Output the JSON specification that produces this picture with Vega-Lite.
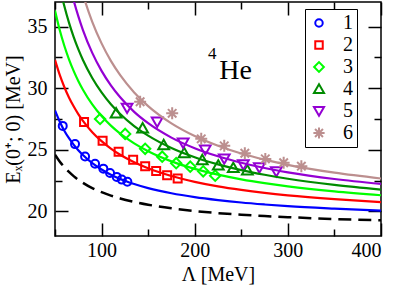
{
  "$schema": "https://vega.github.io/schema/vega-lite/v6.json",
  "width": 326,
  "height": 234,
  "autosize": {"type": "none"},
  "padding": {"left": 55, "top": 2, "right": 14, "bottom": 50},
  "background": "white",
  "config": {
    "view": {"stroke": "black", "strokeWidth": 1.5},
    "font": "Liberation Serif",
    "axis": {
      "grid": false, "domain": false, "tickColor": "black", "tickWidth": 1.5,
      "labelColor": "black", "labelFont": "Liberation Serif", "labelFontSize": 20,
      "titleFont": "Liberation Serif", "titleFontSize": 20, "titleFontWeight": "normal", "titleColor": "black"
    },
    "legend": {
      "padding": 4, "strokeColor": "black", "labelFont": "Liberation Serif", "labelFontSize": 20,
      "labelColor": "black", "symbolStrokeWidth": 2, "symbolSize": 56, "rowPadding": 2,
      "labelOffset": 14, "cornerRadius": 0
    }
  },
  "datasets": {
    "curves": [
      {"s":"0","L":50,"E":24.60},{"s":"0","L":55,"E":24.05},{"s":"0","L":60,"E":23.59},{"s":"0","L":65,"E":23.20},{"s":"0","L":70,"E":22.86},{"s":"0","L":75,"E":22.57},{"s":"0","L":80,"E":22.32},{"s":"0","L":90,"E":21.89},{"s":"0","L":100,"E":21.56},{"s":"0","L":110,"E":21.28},{"s":"0","L":120,"E":21.05},{"s":"0","L":135,"E":20.77},{"s":"0","L":150,"E":20.54},{"s":"0","L":175,"E":20.25},{"s":"0","L":200,"E":20.03},{"s":"0","L":225,"E":19.86},{"s":"0","L":250,"E":19.73},{"s":"0","L":275,"E":19.62},{"s":"0","L":300,"E":19.53},{"s":"0","L":350,"E":19.38},{"s":"0","L":400,"E":19.27},
      {"s":"1","L":50,"E":28.20},{"s":"1","L":55,"E":27.30},{"s":"1","L":60,"E":26.55},{"s":"1","L":65,"E":25.94},{"s":"1","L":70,"E":25.42},{"s":"1","L":75,"E":24.96},{"s":"1","L":80,"E":24.57},{"s":"1","L":90,"E":23.91},{"s":"1","L":100,"E":23.40},{"s":"1","L":110,"E":22.98},{"s":"1","L":120,"E":22.63},{"s":"1","L":135,"E":22.22},{"s":"1","L":150,"E":21.89},{"s":"1","L":175,"E":21.47},{"s":"1","L":200,"E":21.16},{"s":"1","L":225,"E":20.92},{"s":"1","L":250,"E":20.72},{"s":"1","L":275,"E":20.56},{"s":"1","L":300,"E":20.42},{"s":"1","L":350,"E":20.22},{"s":"1","L":400,"E":20.06},
      {"s":"2","L":50,"E":32.30},{"s":"2","L":55,"E":31.10},{"s":"2","L":60,"E":30.10},{"s":"2","L":65,"E":29.25},{"s":"2","L":70,"E":28.53},{"s":"2","L":75,"E":27.90},{"s":"2","L":80,"E":27.35},{"s":"2","L":90,"E":26.43},{"s":"2","L":100,"E":25.70},{"s":"2","L":110,"E":25.10},{"s":"2","L":120,"E":24.60},{"s":"2","L":135,"E":23.99},{"s":"2","L":150,"E":23.50},{"s":"2","L":175,"E":22.87},{"s":"2","L":200,"E":22.40},{"s":"2","L":225,"E":22.03},{"s":"2","L":250,"E":21.74},{"s":"2","L":275,"E":21.50},{"s":"2","L":300,"E":21.30},{"s":"2","L":350,"E":20.99},{"s":"2","L":400,"E":20.75},
      {"s":"3","L":50,"E":36.30},{"s":"3","L":55,"E":34.74},{"s":"3","L":60,"E":33.45},{"s":"3","L":65,"E":32.35},{"s":"3","L":70,"E":31.41},{"s":"3","L":75,"E":30.59},{"s":"3","L":80,"E":29.88},{"s":"3","L":90,"E":28.69},{"s":"3","L":100,"E":27.74},{"s":"3","L":110,"E":26.96},{"s":"3","L":120,"E":26.31},{"s":"3","L":135,"E":25.52},{"s":"3","L":150,"E":24.88},{"s":"3","L":175,"E":24.06},{"s":"3","L":200,"E":23.45},{"s":"3","L":225,"E":22.98},{"s":"3","L":250,"E":22.60},{"s":"3","L":275,"E":22.29},{"s":"3","L":300,"E":22.03},{"s":"3","L":350,"E":21.62},{"s":"3","L":400,"E":21.31},
      {"s":"4","L":50,"E":40.18},{"s":"4","L":55,"E":38.27},{"s":"4","L":60,"E":36.67},{"s":"4","L":65,"E":35.32},{"s":"4","L":70,"E":34.17},{"s":"4","L":75,"E":33.17},{"s":"4","L":80,"E":32.29},{"s":"4","L":90,"E":30.83},{"s":"4","L":100,"E":29.66},{"s":"4","L":110,"E":28.70},{"s":"4","L":120,"E":27.91},{"s":"4","L":135,"E":26.93},{"s":"4","L":150,"E":26.15},{"s":"4","L":175,"E":25.15},{"s":"4","L":200,"E":24.40},{"s":"4","L":225,"E":23.82},{"s":"4","L":250,"E":23.35},{"s":"4","L":275,"E":22.97},{"s":"4","L":300,"E":22.65},{"s":"4","L":350,"E":22.15},{"s":"4","L":400,"E":21.77},
      {"s":"5","L":60,"E":40.44},{"s":"5","L":65,"E":38.66},{"s":"5","L":70,"E":37.14},{"s":"5","L":75,"E":35.85},{"s":"5","L":80,"E":34.72},{"s":"5","L":90,"E":32.87},{"s":"5","L":100,"E":31.41},{"s":"5","L":110,"E":30.23},{"s":"5","L":120,"E":29.26},{"s":"5","L":135,"E":28.08},{"s":"5","L":150,"E":27.16},{"s":"5","L":175,"E":25.99},{"s":"5","L":200,"E":25.13},{"s":"5","L":225,"E":24.47},{"s":"5","L":250,"E":23.95},{"s":"5","L":275,"E":23.52},{"s":"5","L":300,"E":23.17},{"s":"5","L":350,"E":22.63},{"s":"5","L":400,"E":22.23},
      {"s":"6","L":75,"E":38.97},{"s":"6","L":80,"E":37.62},{"s":"6","L":90,"E":35.39},{"s":"6","L":100,"E":33.64},{"s":"6","L":110,"E":32.22},{"s":"6","L":120,"E":31.06},{"s":"6","L":135,"E":29.66},{"s":"6","L":150,"E":28.55},{"s":"6","L":175,"E":27.15},{"s":"6","L":200,"E":26.12},{"s":"6","L":225,"E":25.33},{"s":"6","L":250,"E":24.70},{"s":"6","L":275,"E":24.20},{"s":"6","L":300,"E":23.78},{"s":"6","L":350,"E":23.14},{"s":"6","L":400,"E":22.67}
    ],
    "points": [
      {"s":"1","L":58.3,"E":26.94},{"s":"1","L":71.5,"E":25.46},{"s":"1","L":82.3,"E":24.46},{"s":"1","L":93.0,"E":23.87},{"s":"1","L":101.9,"E":23.47},{"s":"1","L":109.1,"E":23.12},{"s":"1","L":116.3,"E":22.80},{"s":"1","L":121.7,"E":22.58},{"s":"1","L":127.7,"E":22.40},
      {"s":"2","L":81.2,"E":27.26},{"s":"2","L":101.1,"E":25.73},{"s":"2","L":118.3,"E":24.84},{"s":"2","L":133.9,"E":24.19},{"s":"2","L":146.8,"E":23.67},{"s":"2","L":158.6,"E":23.27},{"s":"2","L":170.4,"E":22.94},{"s":"2","L":181.7,"E":22.66},
      {"s":"3","L":98.4,"E":27.50},{"s":"3","L":125.3,"E":26.29},{"s":"3","L":146.8,"E":25.08},{"s":"3","L":165.1,"E":24.44},{"s":"3","L":180.1,"E":23.91},{"s":"3","L":195.2,"E":23.63},{"s":"3","L":209.1,"E":23.25},{"s":"3","L":222.0,"E":22.90},
      {"s":"4","L":115.6,"E":27.98},{"s":"4","L":144.1,"E":26.77},{"s":"4","L":166.7,"E":25.40},{"s":"4","L":188.7,"E":24.76},{"s":"4","L":208.1,"E":24.19},{"s":"4","L":225.3,"E":23.75},{"s":"4","L":241.4,"E":23.55},{"s":"4","L":256.5,"E":23.35},
      {"s":"5","L":127.4,"E":28.39},{"s":"5","L":159.7,"E":27.26},{"s":"5","L":187.6,"E":25.56},{"s":"5","L":211.3,"E":25.00},{"s":"5","L":231.7,"E":24.27},{"s":"5","L":252.2,"E":23.79},{"s":"5","L":269.4,"E":23.55},{"s":"5","L":287.6,"E":23.23},
      {"s":"6","L":141.4,"E":28.90},{"s":"6","L":175.8,"E":27.96},{"s":"6","L":207.0,"E":25.89},{"s":"6","L":231.7,"E":25.32},{"s":"6","L":253.8,"E":24.72},{"s":"6","L":275.8,"E":24.26},{"s":"6","L":295.5,"E":23.95},{"s":"6","L":314.5,"E":23.67}
    ],
    "labels": [
      {"t":"He","L":243.9,"E":30.78,"k":"big"},
      {"t":"4","L":218.8,"E":32.40,"k":"small"}
    ]
  },
  "layer": [
    {
      "data": {"name": "points"},
      "mark": {"type": "point", "filled": false, "strokeWidth": 2, "opacity": 1, "size": 64, "clip": true},
      "encoding": {
        "x": {"field": "L", "type": "quantitative", "scale": {"domain": [50, 400], "nice": false, "zero": false},
              "axis": {"orient": "bottom", "values": [100, 200, 300, 400], "tickSize": -13, "labelPadding": 17, "title": "Λ [MeV]", "titlePadding": 4}},
        "y": {"field": "E", "type": "quantitative", "scale": {"domain": [18, 37], "nice": false, "zero": false},
              "axis": {"orient": "left", "values": [20, 25, 30, 35], "tickSize": -13, "labelPadding": 21, "title": "Eₓ(0⁺; 0) [MeV]", "titlePadding": 4}},
        "color": {"field": "s", "type": "nominal",
                  "scale": {"domain": ["1","2","3","4","5","6"], "range": ["#0000ff","#ff0000","#00ff00","#008b00","#9400d3","#bc8f8f"]},
                  "legend": {"title": null, "orient": "none", "legendX": 250, "legendY": 7}},
        "shape": {"field": "s", "type": "nominal",
                  "scale": {"domain": ["1","2","3","4","5","6"], "range": ["circle","square","M-1.3,0L0,-1.3L1.3,0L0,1.3Z","M0,-1.25L-1.35,1.1L1.35,1.1Z","M0,1.25L-1.35,-1.1L1.35,-1.1Z","M0,-1.5L0,1.5M-1.5,0L1.5,0M-1.06,-1.06L1.06,1.06M-1.06,1.06L1.06,-1.06"]},
                  "legend": {"title": null, "orient": "none", "legendX": 250, "legendY": 7}}
      }
    },
    {
      "data": {"name": "curves"},
      "transform": [{"filter": "datum.s != '0'"}],
      "mark": {"type": "line", "strokeWidth": 2.2, "clip": true, "interpolate": "monotone"},
      "encoding": {
        "x": {"field": "L", "type": "quantitative", "axis": {"orient": "bottom", "values": [50, 150, 250, 350], "tickSize": -7, "labels": false, "title": null}},
        "y": {"field": "E", "type": "quantitative", "axis": {"orient": "left", "values": [22.5, 27.5, 32.5], "tickSize": -7, "labels": false, "title": null}},
        "stroke": {"field": "s", "type": "nominal",
                   "scale": {"domain": ["1","2","3","4","5","6"], "range": ["#0000ff","#ff0000","#00ff00","#008b00","#9400d3","#bc8f8f"]},
                   "legend": null}
      }
    },
    {
      "data": {"name": "curves"},
      "transform": [{"filter": "datum.s == '0'"}],
      "mark": {"type": "line", "strokeWidth": 2.5, "color": "black", "strokeDash": [13, 7], "clip": true, "interpolate": "monotone"},
      "encoding": {
        "x": {"field": "L", "type": "quantitative", "axis": {"orient": "top", "values": [100, 200, 300, 400], "tickSize": -13, "labels": false, "title": null}},
        "y": {"field": "E", "type": "quantitative", "axis": {"orient": "right", "values": [20, 25, 30, 35], "tickSize": -13, "labels": false, "title": null}}
      }
    },
    {
      "data": {"name": "labels"},
      "transform": [{"filter": "datum.k == 'big'"}],
      "mark": {"type": "text", "font": "Liberation Serif", "fontSize": 28, "align": "center", "baseline": "alphabetic", "color": "black"},
      "encoding": {
        "x": {"field": "L", "type": "quantitative", "axis": {"orient": "top", "values": [50, 150, 250, 350], "tickSize": -7, "labels": false, "title": null}},
        "y": {"field": "E", "type": "quantitative", "axis": {"orient": "right", "values": [22.5, 27.5, 32.5], "tickSize": -7, "labels": false, "title": null}},
        "text": {"field": "t"}
      }
    },
    {
      "data": {"name": "labels"},
      "transform": [{"filter": "datum.k == 'small'"}],
      "mark": {"type": "text", "font": "Liberation Serif", "fontSize": 17, "align": "center", "baseline": "alphabetic", "color": "black"},
      "encoding": {
        "x": {"field": "L", "type": "quantitative", "axis": null},
        "y": {"field": "E", "type": "quantitative", "axis": null},
        "text": {"field": "t"}
      }
    }
  ],
  "resolve": {"axis": {"x": "independent", "y": "independent"}}
}
